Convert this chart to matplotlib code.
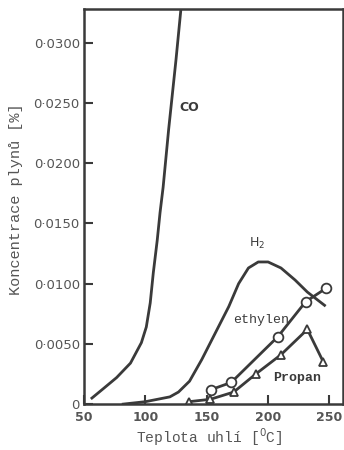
import numpy as np
import matplotlib
matplotlib.use('Agg')
import matplotlib.pyplot as plt

plt.rcParams['font.family'] = 'DejaVu Sans'
plt.rcParams['font.size'] = 9

ink = '#3a3a3a'
grey = '#555555'

# CO
co_t = [56.5, 66, 76.6, 87.9, 96.8, 100.8, 104, 106.5, 109.7, 112, 114.5, 119, 125, 129]
co_c = [0.0005, 0.0013, 0.0022, 0.0034, 0.0051, 0.0064, 0.0084, 0.0109, 0.0136,
        0.0159, 0.0180, 0.0228, 0.0286, 0.0328]

# H2
h2_t = [82, 100, 120, 127, 136, 146, 157, 168, 176, 184, 192, 200, 210.5, 222, 232, 246]
h2_c = [0.0, 0.0002, 0.0006, 0.0010, 0.0019, 0.0037, 0.0059, 0.0081, 0.0100,
        0.0113, 0.0118, 0.0118, 0.0113, 0.0103, 0.0093, 0.0082]

# ethylen (circles)
eth_t = [153.5, 170, 208, 230.6, 247]
eth_c = [0.0012, 0.0018, 0.0056, 0.0085, 0.0096]

# propan (triangles)
pro_t = [135.5, 153, 172, 190, 210.5, 232, 245]
pro_c = [0.0002, 0.0004, 0.0010, 0.0025, 0.0041, 0.0062, 0.0035]

yticks = [0, 0.005, 0.010, 0.015, 0.020, 0.025, 0.030]
ylabels = ['0', '0·0050', '0·0100', '0·0150', '0·0200', '0·0250', '0·0300']
xticks = [50, 100, 150, 200, 250]

fig = plt.figure(figsize=(3.44, 4.5), dpi=100)
ax = fig.add_axes([0.244, 0.102, 0.753, 0.878])

ax.plot(co_t, co_c, color=ink, lw=2, solid_joinstyle='round')
ax.plot(h2_t, h2_c, color=ink, lw=2, solid_joinstyle='round')
ax.plot(eth_t, eth_c, color=ink, lw=2, marker='o', ms=7, mfc='white', mec=ink, mew=1.3)
ax.plot(pro_t, pro_c, color=ink, lw=2, marker='^', ms=6, mfc='white', mec=ink, mew=1.3)

ax.text(136, 0.0246, 'CO', color=ink, fontsize=9, fontweight='bold', ha='center', va='center')
ax.text(191, 0.0133, 'H$_2$', color=ink, fontsize=9, ha='center', va='center')
ax.text(194, 0.0070, 'ethylen', color=ink, fontsize=9.5, family='Liberation Mono',
        ha='center', va='center')
ax.text(224, 0.0022, 'Propan', color=ink, fontsize=9.5, family='Liberation Mono',
        fontweight='bold', ha='center', va='center')

ax.set_xlim(50, 261)
ax.set_ylim(0, 0.0328)
ax.set_xticks(xticks)
ax.set_xticklabels([str(t) for t in xticks], fontweight='bold', color=grey, fontsize=9)
ax.set_yticks(yticks)
ax.set_yticklabels(ylabels, color=grey, fontsize=9.5)
ax.tick_params(axis='both', direction='in', length=6.5, width=1.5, color=ink)
ax.tick_params(axis='x', pad=5)
ax.tick_params(axis='y', pad=3)
for s in ax.spines.values():
    s.set_linewidth(1.8)
    s.set_color(ink)

fig.text(209 / 344, 1 - 437 / 450, 'Teplota uhlí [$^0$C]', family='Liberation Mono',
         color=grey, fontsize=10.5, ha='center', va='center')
fig.text(16 / 344, 1 - 199 / 450, 'Koncentrace plynů [%]', family='Liberation Mono',
         color=grey, fontsize=11, ha='center', va='center', rotation=90)

fig.savefig('out.png', dpi=100, facecolor='white')
